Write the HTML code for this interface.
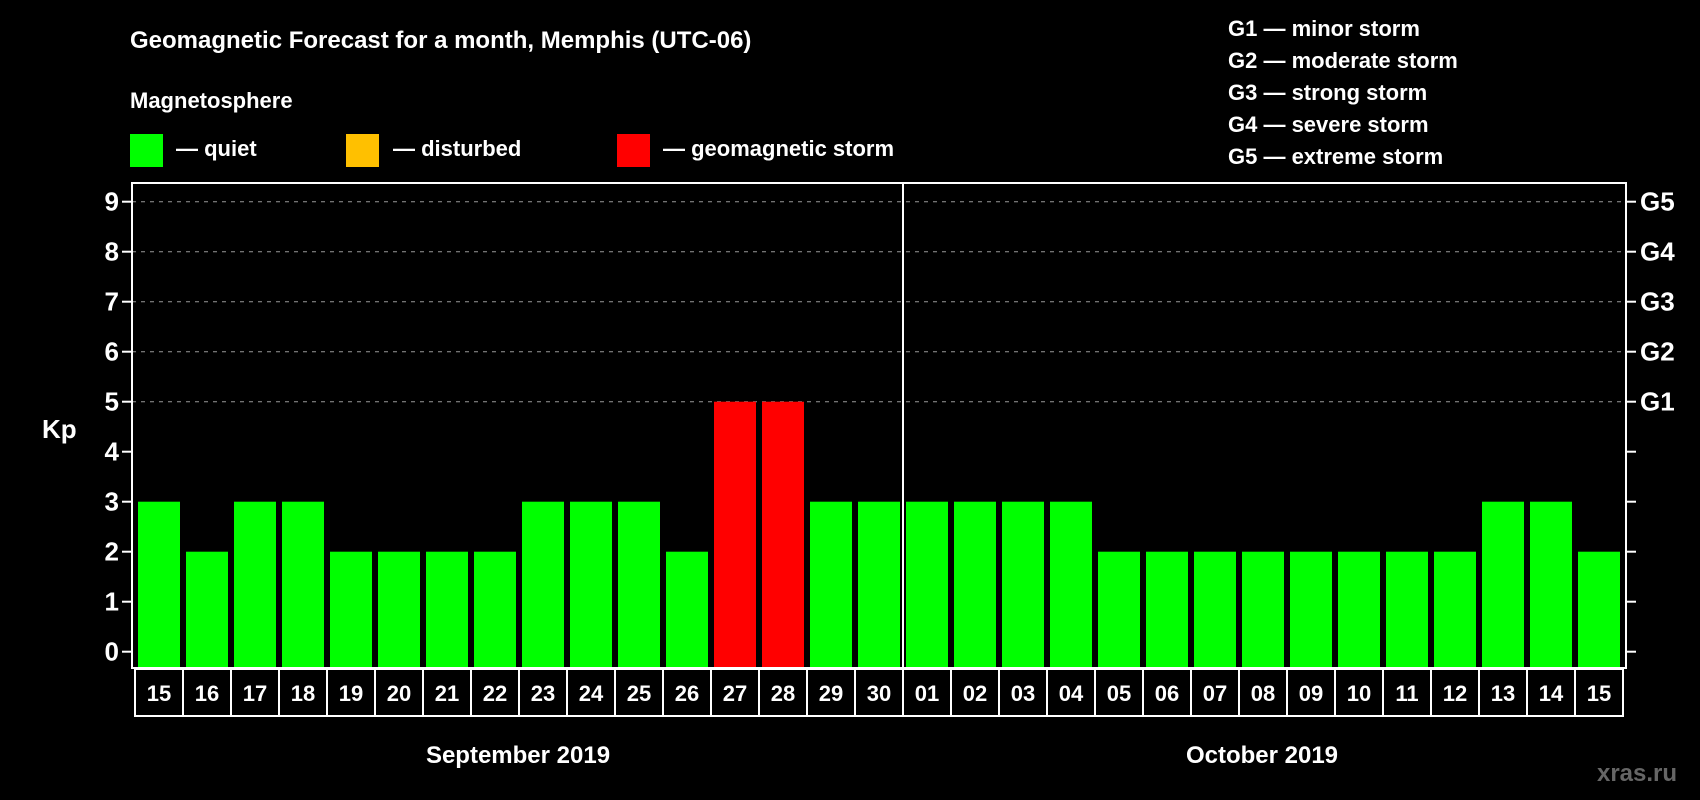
<!DOCTYPE html>
<html><head><meta charset="utf-8"><style>
html,body{margin:0;padding:0;background:#000;}
svg{display:block;font-family:"Liberation Sans",Arial,sans-serif;font-weight:bold;}
</style></head><body>
<svg id="chart" width="1700" height="800" viewBox="0 0 1700 800">
<rect width="1700" height="800" fill="#000"/>
<text x="130" y="48" fill="#fff" font-size="24">Geomagnetic Forecast for a month, Memphis (UTC-06)</text>
<text x="130" y="108" fill="#fff" font-size="22">Magnetosphere</text>
<g><rect x="130" y="134" width="33" height="33" fill="#00ff00"/><text x="176" y="156" fill="#fff" font-size="22">— quiet</text></g>
<g><rect x="346" y="134" width="33" height="33" fill="#ffc000"/><text x="393" y="156" fill="#fff" font-size="22">— disturbed</text></g>
<g><rect x="617" y="134" width="33" height="33" fill="#ff0000"/><text x="663" y="156" fill="#fff" font-size="22">— geomagnetic storm</text></g>
<g fill="#fff" font-size="22">
<text x="1228" y="36">G1 — minor storm</text>
<text x="1228" y="68">G2 — moderate storm</text>
<text x="1228" y="100">G3 — strong storm</text>
<text x="1228" y="132">G4 — severe storm</text>
<text x="1228" y="164">G5 — extreme storm</text>
</g>
<text x="42" y="438" fill="#fff" font-size="26">Kp</text>
<text x="1637" y="781" fill="#666" font-size="24" text-anchor="middle">xras.ru</text>
<text x="518" y="763" fill="#fff" font-size="24" text-anchor="middle">September 2019</text>
<text x="1262" y="763" fill="#fff" font-size="24" text-anchor="middle">October 2019</text>
<g id="plot"></g>
</svg>
<script>
const days = ["15","16","17","18","19","20","21","22","23","24","25","26","27","28","29","30","01","02","03","04","05","06","07","08","09","10","11","12","13","14","15"];
const kp = [3,2,3,3,2,2,2,2,3,3,3,2,5,5,3,3,3,3,3,3,2,2,2,2,2,2,2,2,3,3,2];
const yTicks = [0,1,2,3,4,5,6,7,8,9];
const gLabels = ["G1","G2","G3","G4","G5"];
const NS="http://www.w3.org/2000/svg";
const plot=document.getElementById('plot');
const L=132,R=1626,T=183,B=668,X0=135,STEP=48;
const y=v=>651.7-v*50;
const x=i=>X0+i*STEP;
function mk(t,a){const e=document.createElementNS(NS,t);for(const k in a)e.setAttribute(k,a[k]);plot.appendChild(e);return e;}
yTicks.forEach(v=>{
  if(v>=5){const g=mk('line',{x1:L,x2:R,y1:y(v),y2:y(v),stroke:'#999','stroke-dasharray':'4,5','stroke-width':1});
  
  }
  const t1=mk('line',{x1:L-10,x2:L,y1:y(v),y2:y(v),stroke:'#fff','stroke-width':2});
  
  
  mk('line',{x1:R,x2:R+10,y1:y(v),y2:y(v),stroke:'#fff','stroke-width':2});
  const tl=mk('text',{x:L-13,y:y(v)+9,fill:'#fff','font-size':26,'text-anchor':'end'});
  tl.textContent=v;
  
  
});
gLabels.forEach((g,i)=>{
  const t=mk('text',{x:R+14,y:y(5+i)+9,fill:'#fff','font-size':26});
  t.textContent=g;
  
  
});
kp.forEach((v,i)=>{
  const c=v>=5?'#ff0000':(v>=4?'#ffc000':'#00ff00');
  const r=mk('rect',{x:x(i)+3,y:y(v),width:42,height:B-y(v),fill:c});
  
  
  const b=mk('rect',{x:x(i),y:669,width:STEP,height:47,fill:'none',stroke:'#fff','stroke-width':2});
  
  
  const t=mk('text',{x:x(i)+STEP/2,y:701,fill:'#fff','font-size':22,'text-anchor':'middle'});
  t.textContent=days[i];
  
  
});
const f=mk('rect',{x:L,y:T,width:R-L,height:B-T,fill:'none',stroke:'#fff','stroke-width':2});


const d=mk('line',{x1:x(16),x2:x(16),y1:T,y2:B,stroke:'#fff','stroke-width':2});


</script>
</body></html>
